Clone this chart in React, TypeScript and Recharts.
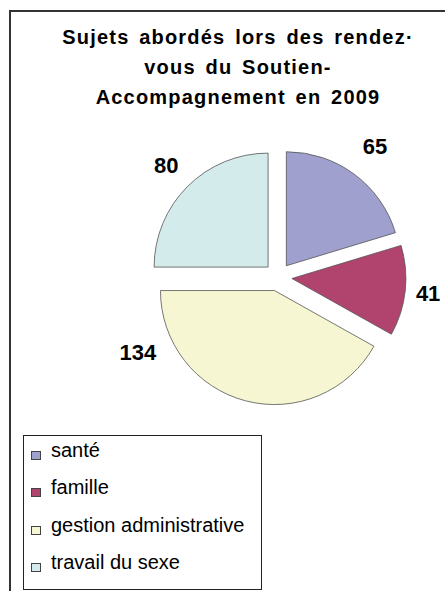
import React from 'react';
import { PieChart, Pie, Cell, Legend } from 'recharts';

const categories = ['santé', 'famille', 'gestion administrative', 'travail du sexe'];
const counts = [65, 41, 134, 80];
const colors = ['#9FA0CD', '#B0446F', '#F6F6D2', '#D3EBEB'];
const titleLines = ['Sujets abordés lors des rendez·', 'vous du Soutien-', 'Accompagnement en 2009'];

const FONT = '"Liberation Sans", Arial, sans-serif';
const CX = 278;
const CY = 277;
const RADIUS = 114;
const EXPLODE = 14;
// Excel places its labels a little unevenly, and pushed "134" round to the left
const LABEL_GAP = [35, 23, 36, 30];
const LABEL_NUDGE = [0, 0, -51, 0];
const RAD = Math.PI / 180;

const data = categories.map((name, i) => ({ name, value: counts[i] }));
const total = counts.reduce((a, b) => a + b, 0);

// mid angle of each slice (recharts convention: degrees ccw from 3 o'clock)
const midAngles = counts.map((v, i) => {
  const before = counts.slice(0, i).reduce((a, b) => a + b, 0);
  return 90 - (360 * (before + v / 2)) / total;
});

const renderLabel = (k: number) => (props: any) => {
  const { cx, cy, midAngle, outerRadius, index, value } = props;
  if (index !== k) return null;
  const a = midAngle + LABEL_NUDGE[index];
  const r = outerRadius + LABEL_GAP[index];
  const x = cx + r * Math.cos(-a * RAD);
  const y = cy + r * Math.sin(-a * RAD);
  return (
    <text
      x={x}
      y={y}
      textAnchor="middle"
      dominantBaseline="central"
      fontFamily={FONT}
      fontSize={22}
      fontWeight="bold"
      fill="#000"
    >
      {value}
    </text>
  );
};

const LegendBox = () => (
  <div style={{ fontFamily: FONT, fontSize: 20, color: '#000' }}>
    {categories.map((name, i) => (
      <div key={name} style={{ position: 'relative', height: 37.3, lineHeight: '30px' }}>
        <span
          style={{
            position: 'absolute',
            left: 7,
            top: 15,
            width: 10,
            height: 9,
            boxSizing: 'border-box',
            background: colors[i],
            border: '1px solid #444',
          }}
        />
        <span style={{ position: 'absolute', left: 27, top: -1, whiteSpace: 'nowrap' }}>{name}</span>
      </div>
    ))}
  </div>
);

export default function App() {
  return (
    <div style={{ position: 'fixed', left: 0, top: 0, width: 445, height: 591, overflow: 'hidden', background: '#fff' }}>
      {/* chart frame, right and bottom edges fall outside the picture */}
      <div
        style={{
          position: 'absolute',
          left: 9,
          top: 10,
          width: 600,
          height: 700,
          borderLeft: '2px solid #333',
          borderTop: '2px solid #333',
        }}
      />
      <div
        style={{
          position: 'absolute',
          left: 0,
          top: 22,
          width: 476,
          textAlign: 'center',
          fontFamily: FONT,
          fontWeight: 'bold',
          fontSize: 20,
          lineHeight: '30px',
          letterSpacing: 1.2,
          wordSpacing: 3,
          color: '#000',
        }}
      >
        {titleLines.map((t) => (
          <div key={t}>{t}</div>
        ))}
      </div>
      <div style={{ position: 'absolute', left: 0, top: 0 }}>
        <PieChart width={445} height={591} margin={{ top: 0, right: 0, bottom: 0, left: 0 }}>
          {counts.map((_, k) => (
            <Pie
              key={categories[k]}
              data={data}
              dataKey="value"
              nameKey="name"
              cx={CX + EXPLODE * Math.cos(midAngles[k] * RAD)}
              cy={CY - EXPLODE * Math.sin(midAngles[k] * RAD)}
              outerRadius={RADIUS}
              startAngle={90}
              endAngle={-270}
              labelLine={false}
              label={renderLabel(k)}
              isAnimationActive={false}
            >
              {data.map((d, i) => (
                <Cell
                  key={d.name}
                  fill={i === k ? colors[i] : 'none'}
                  stroke={i === k ? '#555' : 'none'}
                  strokeWidth={0.8}
                />
              ))}
            </Pie>
          ))}
          <Legend
            content={() => <LegendBox />}
            wrapperStyle={{
              left: 23,
              top: 435,
              width: 239,
              height: 155,
              boxSizing: 'border-box',
              border: '1px solid #222',
              background: '#fff',
            }}
          />
        </PieChart>
      </div>
    </div>
  );
}
